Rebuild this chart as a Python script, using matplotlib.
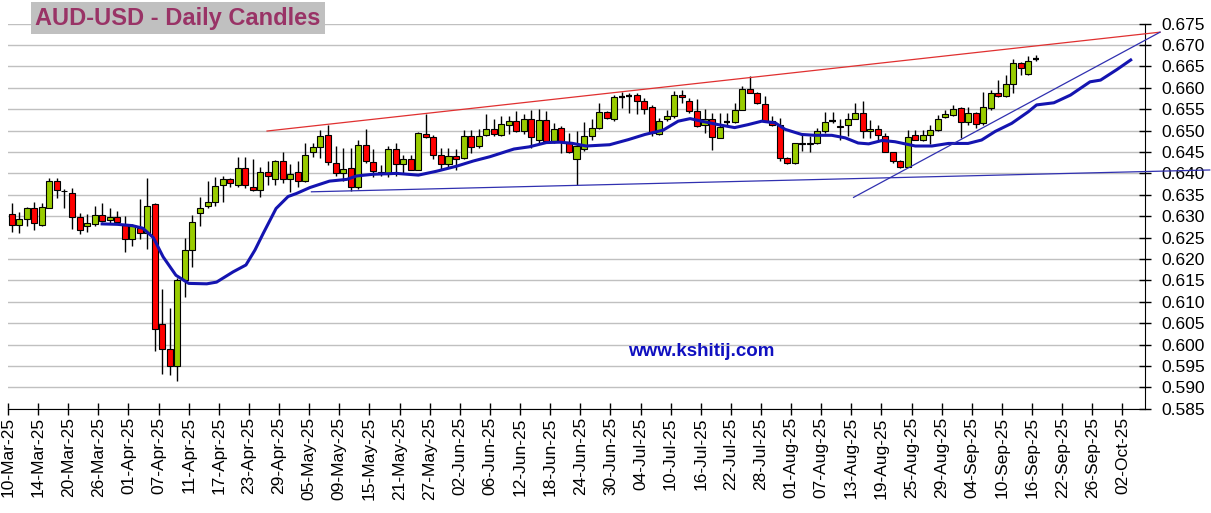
import matplotlib
matplotlib.use("Agg")
import matplotlib.pyplot as plt
import numpy as np

plt.rcParams['font.family'] = ['Liberation Sans', 'DejaVu Sans']

# daily candles, 10-Mar-25 .. 16-Sep-25 (trading days)
opens = [0.6306, 0.6279, 0.6293, 0.6318, 0.6279, 0.6320, 0.6382, 0.6360, 0.6355, 0.6299,
         0.6276, 0.6281, 0.6303, 0.6291, 0.6298, 0.6279, 0.6246, 0.6273, 0.6260, 0.6328,
         0.6048, 0.5989, 0.5950, 0.6150, 0.6222, 0.6307, 0.6323, 0.6334, 0.6373, 0.6386,
         0.6372, 0.6412, 0.6368, 0.6362, 0.6404, 0.6387, 0.6428, 0.6387, 0.6403, 0.6383,
         0.6451, 0.6461, 0.6489, 0.6425, 0.6400, 0.6413, 0.6369, 0.6466, 0.6427, 0.6400,
         0.6398, 0.6456, 0.6421, 0.6433, 0.6409, 0.6491, 0.6486, 0.6443, 0.6423, 0.6440,
         0.6437, 0.6487, 0.6464, 0.6489, 0.6503, 0.6489, 0.6514, 0.6522, 0.6500, 0.6526,
         0.6479, 0.6525, 0.6476, 0.6507, 0.6473, 0.6433, 0.6456, 0.6487, 0.6507, 0.6543,
         0.6526, 0.6578, 0.6580, 0.6583, 0.6569, 0.6555, 0.6493, 0.6526, 0.6534, 0.6584,
         0.6569, 0.6546, 0.6514, 0.6526, 0.6483, 0.6519, 0.6520, 0.6548, 0.6598, 0.6588,
         0.6563, 0.6522, 0.6512, 0.6437, 0.6425, 0.6472, 0.6472, 0.6470, 0.6499, 0.6522,
         0.6511, 0.6512, 0.6528, 0.6541, 0.6498, 0.6503, 0.6488, 0.6451, 0.6430, 0.6416,
         0.6490, 0.6478, 0.6490, 0.6502, 0.6531, 0.6537, 0.6552, 0.6521, 0.6541, 0.6517,
         0.6552, 0.6587, 0.6581, 0.6610, 0.6657, 0.6632, 0.6667]
highs = [0.6332, 0.6310, 0.6322, 0.6334, 0.6332, 0.6390, 0.6390, 0.6364, 0.6367, 0.6307,
         0.6306, 0.6325, 0.6330, 0.6318, 0.6312, 0.6300, 0.6281, 0.6341, 0.6390, 0.6332,
         0.6130, 0.6085, 0.6155, 0.6248, 0.6302, 0.6344, 0.6383, 0.6391, 0.6395, 0.6390,
         0.6438, 0.6438, 0.6434, 0.6414, 0.6428, 0.6431, 0.6451, 0.6422, 0.6430, 0.6471,
         0.6471, 0.6502, 0.6514, 0.6464, 0.6460, 0.6460, 0.6478, 0.6503, 0.6458, 0.6420,
         0.6465, 0.6472, 0.6444, 0.6444, 0.6497, 0.6538, 0.6489, 0.6460, 0.6460, 0.6456,
         0.6501, 0.6501, 0.6504, 0.6538, 0.6526, 0.6534, 0.6534, 0.6546, 0.6538, 0.6549,
         0.6551, 0.6546, 0.6518, 0.6511, 0.6495, 0.6499, 0.6520, 0.6526, 0.6565, 0.6545,
         0.6584, 0.6590, 0.6587, 0.6587, 0.6577, 0.6559, 0.6530, 0.6549, 0.6592, 0.6596,
         0.6577, 0.6574, 0.6551, 0.6542, 0.6542, 0.6542, 0.6565, 0.6604, 0.6627, 0.6590,
         0.6581, 0.6534, 0.6530, 0.6439, 0.6472, 0.6491, 0.6487, 0.6507, 0.6543, 0.6543,
         0.6526, 0.6542, 0.6565, 0.6568, 0.6525, 0.6513, 0.6495, 0.6451, 0.6432, 0.6502,
         0.6502, 0.6502, 0.6513, 0.6537, 0.6548, 0.6560, 0.6555, 0.6556, 0.6544, 0.6591,
         0.6595, 0.6618, 0.6630, 0.6667, 0.6661, 0.6674, 0.6677]
lows = [0.6262, 0.6260, 0.6276, 0.6268, 0.6276, 0.6318, 0.6343, 0.6320, 0.6269, 0.6258,
        0.6262, 0.6277, 0.6287, 0.6281, 0.6281, 0.6217, 0.6230, 0.6246, 0.6224, 0.5985,
        0.5931, 0.5928, 0.5914, 0.6112, 0.6181, 0.6277, 0.6319, 0.6323, 0.6334, 0.6368,
        0.6368, 0.6365, 0.6358, 0.6344, 0.6372, 0.6372, 0.6378, 0.6356, 0.6368, 0.6381,
        0.6438, 0.6435, 0.6419, 0.6394, 0.6382, 0.6359, 0.6363, 0.6425, 0.6392, 0.6393,
        0.6392, 0.6394, 0.6398, 0.6408, 0.6408, 0.6483, 0.6433, 0.6411, 0.6413, 0.6409,
        0.6433, 0.6448, 0.6460, 0.6487, 0.6487, 0.6487, 0.6491, 0.6497, 0.6491, 0.6460,
        0.6468, 0.6476, 0.6470, 0.6448, 0.6448, 0.6374, 0.6452, 0.6479, 0.6504, 0.6526,
        0.6522, 0.6553, 0.6542, 0.6538, 0.6538, 0.6487, 0.6490, 0.6522, 0.6530, 0.6565,
        0.6542, 0.6509, 0.6495, 0.6455, 0.6483, 0.6514, 0.6518, 0.6548, 0.6587, 0.6563,
        0.6520, 0.6510, 0.6429, 0.6421, 0.6421, 0.6452, 0.6450, 0.6468, 0.6495, 0.6517,
        0.6479, 0.6487, 0.6526, 0.6482, 0.6482, 0.6478, 0.6449, 0.6425, 0.6412, 0.6414,
        0.6478, 0.6476, 0.6469, 0.6500, 0.6529, 0.6534, 0.6482, 0.6513, 0.6505, 0.6513,
        0.6548, 0.6579, 0.6578, 0.6589, 0.6630, 0.6630, 0.6663]
closes = [0.6279, 0.6293, 0.6318, 0.6283, 0.6322, 0.6382, 0.6361, 0.6358, 0.6297, 0.6268,
          0.6283, 0.6303, 0.6289, 0.6298, 0.6287, 0.6246, 0.6276, 0.6260, 0.6324, 0.6037,
          0.5989, 0.5950, 0.6150, 0.6222, 0.6286, 0.6319, 0.6334, 0.6370, 0.6386, 0.6378,
          0.6412, 0.6372, 0.6362, 0.6404, 0.6395, 0.6428, 0.6387, 0.6399, 0.6383, 0.6442,
          0.6461, 0.6488, 0.6427, 0.6400, 0.6411, 0.6369, 0.6466, 0.6429, 0.6405, 0.6403,
          0.6458, 0.6421, 0.6434, 0.6409, 0.6495, 0.6486, 0.6444, 0.6423, 0.6440, 0.6433,
          0.6487, 0.6462, 0.6487, 0.6503, 0.6491, 0.6516, 0.6522, 0.6500, 0.6526, 0.6485,
          0.6525, 0.6476, 0.6503, 0.6473, 0.6450, 0.6465, 0.6487, 0.6507, 0.6543, 0.6530,
          0.6579, 0.6579, 0.6581, 0.6569, 0.6551, 0.6495, 0.6522, 0.6534, 0.6584, 0.6579,
          0.6546, 0.6511, 0.6526, 0.6486, 0.6508, 0.6520, 0.6548, 0.6598, 0.6588, 0.6565,
          0.6522, 0.6512, 0.6437, 0.6425, 0.6470, 0.6468, 0.6468, 0.6499, 0.6521, 0.6523,
          0.6508, 0.6528, 0.6542, 0.6498, 0.6503, 0.6490, 0.6451, 0.6430, 0.6416, 0.6486,
          0.6478, 0.6490, 0.6502, 0.6527, 0.6539, 0.6550, 0.6521, 0.6542, 0.6516, 0.6556,
          0.6589, 0.6581, 0.6608, 0.6657, 0.6646, 0.6663, 0.6667]

# displaced moving average (day index, value)
ma_day = [12.0, 14.0, 16.0, 17.4, 18.8, 20.1, 21.8, 23.5, 25.9, 27.2, 29.4, 31.1, 32.3, 33.4,
          35.1, 36.7, 37.8, 39.6, 42.2, 44.5, 45.8, 48.0, 51.1, 54.0, 56.4, 59.1, 61.3, 63.5,
          66.7, 68.7, 71.0, 72.8, 74.5, 76.3, 79.4, 81.9, 84.1, 86.5, 88.5, 90.1, 91.6, 93.8,
          96.0, 97.8, 99.6, 101.4, 102.7, 104.9, 106.7, 108.9, 110.7, 112.4, 113.8, 115.6,
          117.3, 120.0, 122.2, 124.4, 127.0, 128.8, 130.6, 132.8, 135.0, 136.1, 138.4, 140.6,
          143.2, 144.6, 146.8, 148.6]
ma_val = [0.6282, 0.6281, 0.6278, 0.6272, 0.6250, 0.6205, 0.6162, 0.6143, 0.6142, 0.6146,
          0.6170, 0.6186, 0.6221, 0.6260, 0.6318, 0.6346, 0.6353, 0.6367, 0.6382, 0.6386,
          0.6394, 0.6398, 0.6400, 0.6396, 0.6405, 0.6417, 0.6429, 0.6439, 0.6457, 0.6462,
          0.6472, 0.6473, 0.6470, 0.6464, 0.6467, 0.6479, 0.6491, 0.6501, 0.6522, 0.6528,
          0.6522, 0.6514, 0.6507, 0.6514, 0.6522, 0.6518, 0.6503, 0.6491, 0.6489, 0.6489,
          0.6483, 0.6471, 0.6469, 0.6477, 0.6474, 0.6464, 0.6464, 0.6470, 0.6470, 0.6478,
          0.6498, 0.6517, 0.6544, 0.6560, 0.6565, 0.6583, 0.6614, 0.6618, 0.6643, 0.6665]

# hand-drawn trend lines: (start day, start price, end day, end price)
resistance = (34.4, 0.6499, 153.0, 0.6730)
support_flat = (40.3, 0.6357, 159.6, 0.6408)
support_rise = (112.3, 0.6344, 153.0, 0.6730)

tick_labels = ['10-Mar-25', '14-Mar-25', '20-Mar-25', '26-Mar-25', '01-Apr-25', '07-Apr-25',
               '11-Apr-25', '17-Apr-25', '23-Apr-25', '29-Apr-25', '05-May-25', '09-May-25',
               '15-May-25', '21-May-25', '27-May-25', '02-Jun-25', '06-Jun-25', '12-Jun-25',
               '18-Jun-25', '24-Jun-25', '30-Jun-25', '04-Jul-25', '10-Jul-25', '16-Jul-25',
               '22-Jul-25', '28-Jul-25', '01-Aug-25', '07-Aug-25', '13-Aug-25', '19-Aug-25',
               '25-Aug-25', '29-Aug-25', '04-Sep-25', '10-Sep-25', '16-Sep-25', '22-Sep-25',
               '26-Sep-25', '02-Oct-25']

fig = plt.figure(figsize=(12.11, 5.13), dpi=100)
ax = fig.add_axes([8 / 1211, 104.2 / 513, 1137 / 1211, 385.2 / 513])

o = np.array(opens)
h = np.array(highs)
l = np.array(lows)
c = np.array(closes)
x = np.arange(len(o)) + 0.5

ax.set_xlim(0, 151)
ax.set_ylim(0.585, 0.675)
ax.set_yticks(np.arange(0.585, 0.6751, 0.005))
ax.grid(axis='y', color='#c0c0c0', lw=1, zorder=0)
ax.set_axisbelow(True)

# wicks
ax.vlines(x, l, h, color='black', lw=1, zorder=2)
# bodies
up = c >= o
body_lo = np.minimum(o, c)
body_h = np.abs(c - o)
colors = np.where(up, '#99cc00', '#ff0000')
flat = body_h < 0.00012
ax.bar(x[~flat], body_h[~flat], bottom=body_lo[~flat], width=0.8,
       color=colors[~flat], edgecolor='black', lw=0.8, zorder=3)
ax.hlines(c[flat], x[flat] - 0.42, x[flat] + 0.42, color='black', lw=1.6, zorder=3)

# moving average
ax.plot(np.array(ma_day) + 0.5, ma_val, color='#1414b0', lw=2.2, zorder=4)

# trend lines
for (x0, y0, x1, y1), col in [(resistance, '#e03030'), (support_flat, '#3030b0'),
                              (support_rise, '#3030b0')]:
    ax.plot([x0, x1], [y0, y1], color=col, lw=0.9, zorder=4, clip_on=False)

ax.set_xticks(np.arange(0, 149, 4))
ax.set_xticklabels(tick_labels, rotation=90, fontsize=12.5)
ax.yaxis.tick_right()
ax.yaxis.set_major_formatter(matplotlib.ticker.FormatStrFormatter('%.3f'))
ax.tick_params(axis='y', labelsize=12.5, direction='inout', length=8, pad=8, width=1)
ax.tick_params(axis='x', direction='inout', length=8, pad=2, width=1)
for side in ['left', 'top']:
    ax.spines[side].set_visible(False)
ax.spines['bottom'].set_color('black')
ax.spines['right'].set_color('black')

ax.text(0.6095, 0.1475, 'www.kshitij.com', transform=ax.transAxes, ha='center',
        va='center', color='#1010c0', fontsize=13.5, fontweight='bold', zorder=5)

fig.text(178 / 1211, 1 - 18 / 513, 'AUD-USD - Daily Candles', ha='center', va='center',
         color='#993366', fontsize=17, fontweight='bold',
         bbox=dict(boxstyle='square,pad=0.2', fc='#c0c0c0', ec='none'))

fig.savefig('out.png', dpi=100)
